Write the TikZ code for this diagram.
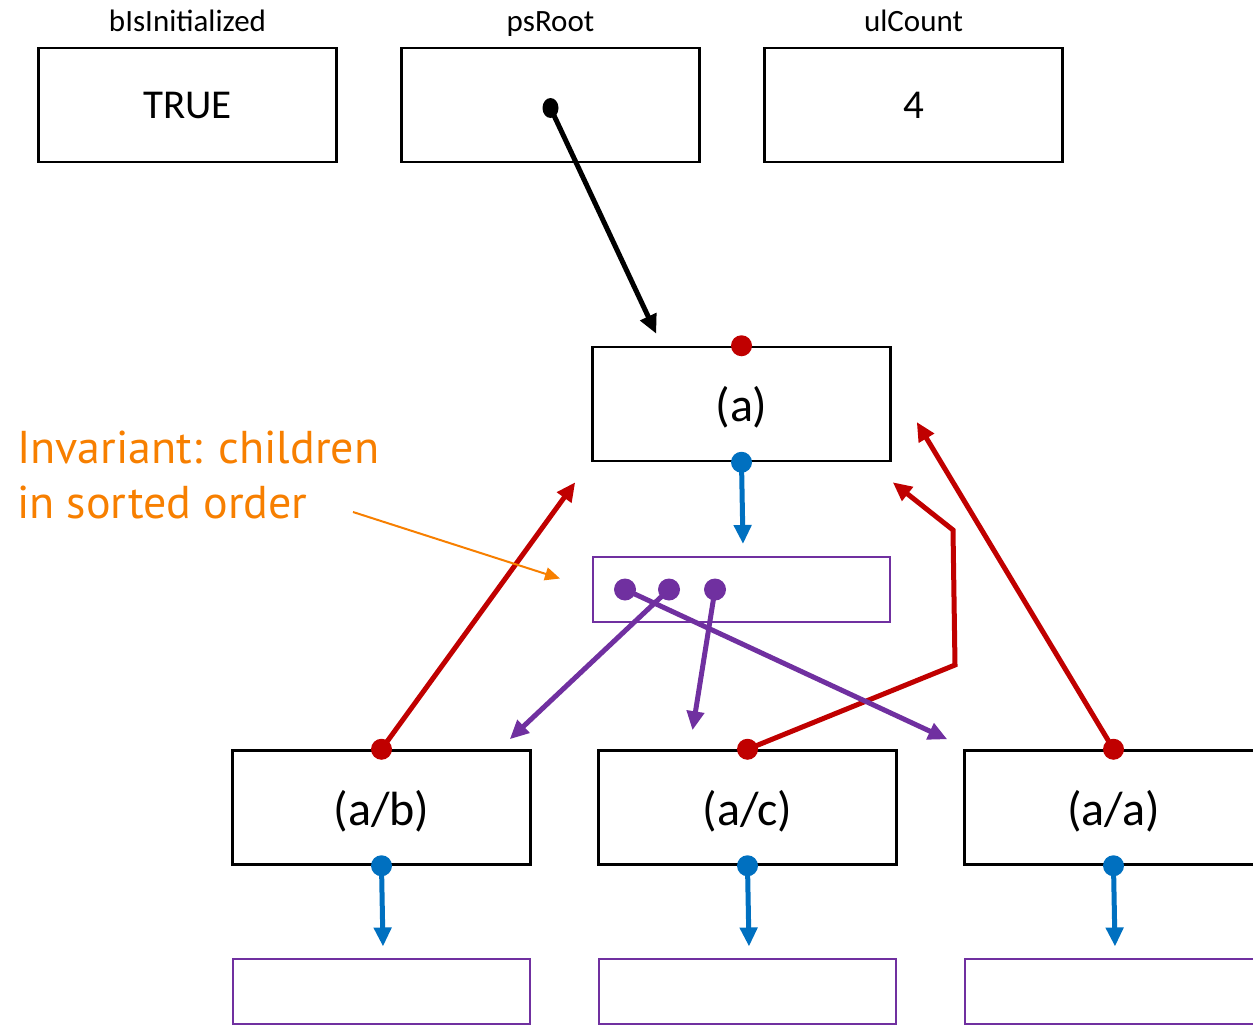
\documentclass[tikz,border=0pt]{standalone}
\usepackage{fontspec}
\setmainfont{Carlito}
\newfontfamily\notefont{PT Sans}
\usetikzlibrary{arrows.meta,positioning,calc}
\definecolor{ptrred}{RGB}{192,0,0}
\definecolor{ptrblue}{RGB}{0,112,192}
\definecolor{ptrpurple}{RGB}{112,48,160}
\definecolor{noteorange}{RGB}{247,127,0}

\tikzset{
  field/.style={draw,line width=2.5pt,minimum width=298pt,minimum height=114pt,inner sep=0pt,font=\fontsize{41}{44}\selectfont},
  tnode/.style={field,font=\fontsize{48}{52}\selectfont,text depth=-3pt},
  tlist/.style={draw=ptrpurple,line width=2pt,minimum width=297pt,minimum height=65pt,inner sep=0pt},
  lbl/.style={font=\fontsize{31}{33}\selectfont,text height=22pt,text depth=7pt},
  note/.style={text=noteorange,font=\notefont\fontsize{46}{50}\selectfont,anchor=base west,inner sep=0pt},
  ptr/.style={line width=5pt,-{Triangle[length=19pt,width=17pt]}},
}

\begin{document}
\begin{tikzpicture}[x=1pt,y=-1pt,node distance=363pt,on grid]
   \useasboundingbox (0,0) rectangle (1253,1025);

   % globals
   \node[field] (init) at (187.5,105) {TRUE};
   \node[field] (root) [right=of init] {};
   \node[field] (count) [right=of root] {4};
   \node[lbl] (linit) [above=81pt of init] {bIsInitialized};
   \node[lbl] (lroot) [above=81pt of root] {psRoot};
   \node[lbl] (lcount) [above=81pt of count] {ulCount};

   % tree
   \node[tnode] (a) at (741.5,404) {(a)};
   \node[tlist] (la) [below=185.5pt of a] {};
   \node[tnode] (ab) at (381.5,807.5) {(a/b)};
   \node[tnode] (ac) [right=366pt of ab] {(a/c)};
   \node[tnode] (aa) [right=366pt of ac] {(a/a)};
   \node[tlist] (lab) [below=183.5pt of ab] {};
   \node[tlist] (lac) [below=183.5pt of ac] {};
   \node[tlist] (laa) [below=183.5pt of aa] {};

   % note
   \node[note] (inv1) at (17,463) {Invariant: children};
   \node[note] (inv2) at (17,518) {in sorted order};

   \coordinate (rootptr) at ($(root.center)+(0,3)$);
   \coordinate (p1) at ($(la.west)+(33,0)$);
   \coordinate (p2) at ($(la.west)+(77,0)$);
   \coordinate (p3) at ($(la.west)+(123,0)$);
   \coordinate (nstart) at (353,512);

   \draw[ptr] (rootptr) -- ($(a.north west)+(65,-12)$);

   % parent links
   \draw[ptr,ptrred] (ab.north) -- ($(a.south west)+(-16,20)$);
   \draw[ptr,ptrred] (ac.north) -- (955,665) -- (953,530) -- ($(a.south east)+(1,20)$);
   \draw[ptr,ptrred] (aa.north) -- ($(a.east)+(25,18)$);

   % child lists
   \draw[ptr,ptrblue] (a.south) -- ($(la.north)+(1.5,-12)$);
   \foreach \n in {ab,ac,aa}
      \draw[ptr,ptrblue] (\n.south) -- ($(l\n.north)+(1.5,-11)$);

   \draw[ptr,ptrpurple] (p1) -- ($(aa.north west)+(-16,-10)$);
   \draw[ptr,ptrpurple] (p2) -- ($(ab.north east)+(-22,-10)$);
   \draw[ptr,ptrpurple] (p3) -- ($(ac.north)+(-55,-19)$);

   \draw[noteorange,line width=2pt,-{Triangle[length=15pt,width=13pt]}] (nstart) -- ($(la.west)+(-32,-11)$);

   % dots
   \fill (rootptr) ellipse (8pt and 10pt);
   \foreach \n in {a,ab,ac,aa} {
      \fill[ptrred] (\n.north) circle (10.5pt);
      \fill[ptrblue] (\n.south) circle (10.5pt);
   }
   \foreach \p in {p1,p2,p3}
      \fill[ptrpurple] (\p) circle (11pt);
\end{tikzpicture}
\end{document}
